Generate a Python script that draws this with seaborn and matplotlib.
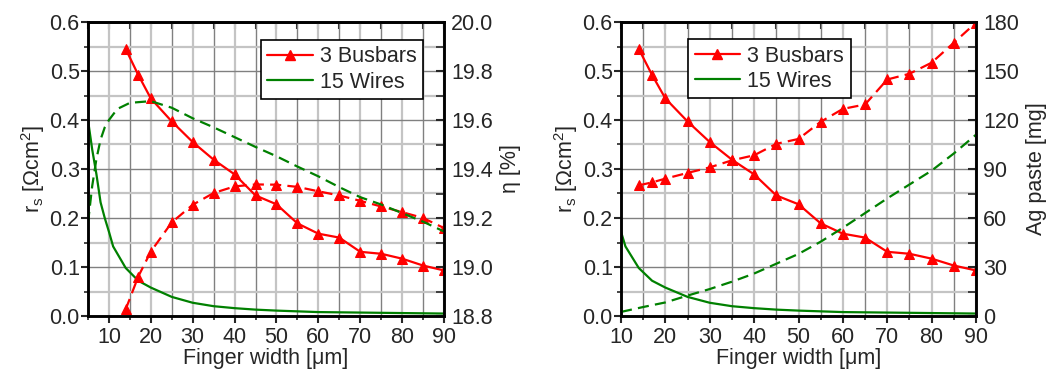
import matplotlib
matplotlib.use("Agg")
import matplotlib.pyplot as plt
import seaborn as sns
from matplotlib.lines import Line2D
from matplotlib.ticker import MultipleLocator, FormatStrFormatter

# ---------------- data ----------------
width_bb = [14, 17, 20, 25, 30, 35, 40, 45, 50, 55, 60, 65, 70, 75, 80, 85, 90]
rs_bb = [0.545, 0.492, 0.444, 0.397, 0.355, 0.319, 0.289, 0.246, 0.228, 0.189,
         0.168, 0.160, 0.131, 0.127, 0.117, 0.103, 0.093]
eta_bb = [18.827, 18.961, 19.063, 19.182, 19.254, 19.302, 19.329, 19.337, 19.336,
          19.327, 19.309, 19.292, 19.270, 19.247, 19.224, 19.200, 19.159]
ag_bb = [80.0, 81.8, 84.1, 87.6, 91.0, 95.3, 98.4, 105.4, 108.4, 118.9, 126.8,
         129.5, 144.8, 148.3, 155.1, 167.3, 179.6]

width_w_rs = [5, 6, 7, 8, 9, 10, 11, 14, 17, 20, 25, 30, 35, 40, 45, 50, 55, 60,
              65, 70, 75, 80, 85, 90]
rs_w = [0.400, 0.340, 0.290, 0.232, 0.200, 0.172, 0.142, 0.098, 0.072, 0.058,
        0.039, 0.027, 0.020, 0.016, 0.013, 0.011, 0.0095, 0.008, 0.0075, 0.007,
        0.0065, 0.006, 0.0055, 0.005]

width_w_eta = [5, 6, 7, 8, 9, 10, 12, 15, 20, 25, 30, 35, 40, 45, 50, 55, 60, 65,
               70, 75, 80, 85, 90]
eta_w = [19.18, 19.33, 19.44, 19.52, 19.57, 19.60, 19.645, 19.67, 19.677, 19.65,
         19.607, 19.57, 19.53, 19.49, 19.452, 19.41, 19.37, 19.326, 19.285,
         19.255, 19.22, 19.185, 19.145]

width_w_ag = [10, 15, 20, 25, 30, 35, 40, 45, 50, 55, 60, 65, 70, 75, 80, 85, 90]
ag_w = [2.5, 5.5, 8.3, 12.5, 16.5, 21.0, 26.0, 32.0, 38.0, 45.5, 54.0, 63.0,
        72.0, 80.5, 89.0, 99.5, 111.0]

legend_labels = ["3 Busbars", "15 Wires"]

# ---------------- style ----------------
sns.set_style("white")
plt.rcParams['font.family'] = ['Liberation Sans', 'DejaVu Sans']
plt.rcParams['mathtext.fontset'] = 'custom'
plt.rcParams['mathtext.rm'] = 'Liberation Sans'
plt.rcParams['mathtext.it'] = 'Liberation Sans'
FS = 15.5
RED = '#ff0000'
GREEN = '#008000'
DASH = (0, (5, 2.8))
MS = 7.5

W, H = 1052, 379
fig = plt.figure(figsize=(W / 100, H / 100), dpi=100)
axL = fig.add_axes([88 / W, 1 - 316 / H, 356 / W, 294 / H])
axR = fig.add_axes([621 / W, 1 - 316 / H, 355 / W, 294 / H])


def style_main(ax, xmin):
    ax.set_xlim(xmin, 90)
    ax.set_ylim(0, 0.6)
    ax.xaxis.set_major_locator(MultipleLocator(10))
    ax.xaxis.set_minor_locator(MultipleLocator(5))
    ax.yaxis.set_major_locator(MultipleLocator(0.1))
    ax.yaxis.set_minor_locator(MultipleLocator(0.05))
    ax.yaxis.set_major_formatter(FormatStrFormatter('%.1f'))
    ax.grid(True, axis='x', which='major', color='#c4c4c4', lw=1.6)
    ax.grid(True, axis='x', which='minor', color='#808080', lw=1.0)
    ax.grid(True, axis='y', which='major', color='#808080', lw=1.0)
    ax.grid(True, axis='y', which='minor', color='#c4c4c4', lw=1.6)
    ax.set_axisbelow(True)
    ax.tick_params(axis='y', which='major', direction='out', length=5,
                   width=1.5, labelsize=FS, pad=1, left=True)
    ax.tick_params(axis='x', which='major', direction='out', length=5,
                   width=1.5, labelsize=FS, pad=3, bottom=True)
    ax.tick_params(axis='both', which='minor', direction='out', length=3,
                   width=1.2, bottom=True, left=True)
    for s in ax.spines.values():
        s.set_linewidth(1.8)
        s.set_color('black')
    top = ax.secondary_xaxis('top')
    top.xaxis.set_major_locator(MultipleLocator(5))
    top.tick_params(direction='in', length=5, width=1.5, labeltop=False)
    top.spines['top'].set_linewidth(1.8)
    ax.set_xlabel('Finger width [μm]', fontsize=FS, labelpad=0)
    ax.set_ylabel(r'r$_\mathregular{s}$ [$\Omega$cm$^\mathregular{2}$]',
                  fontsize=FS, labelpad=2)


def style_twin(ax2):
    ax2.tick_params(axis='y', which='major', direction='in', length=6,
                    width=1.5, labelsize=FS, pad=5)
    ax2.tick_params(axis='y', which='minor', direction='in', length=6, width=1.2)
    ax2.grid(False)
    for s in ax2.spines.values():
        s.set_linewidth(1.8)
        s.set_color('black')


# ---------------- left panel ----------------
style_main(axL, 5)
sns.lineplot(x=width_bb, y=rs_bb, ax=axL, color=RED, marker='^', markersize=MS,
             markeredgecolor=RED, lw=1.6)
sns.lineplot(x=width_w_rs, y=rs_w, ax=axL, color=GREEN, lw=1.6)

axL2 = axL.twinx()
sns.lineplot(x=width_bb, y=eta_bb, ax=axL2, color=RED, marker='^', markersize=MS,
             markeredgecolor=RED, lw=1.6, linestyle=DASH)
sns.lineplot(x=width_w_eta, y=eta_w, ax=axL2, color=GREEN, lw=1.6, linestyle=DASH)
axL2.set_ylim(18.8, 20.0)
axL2.yaxis.set_major_locator(MultipleLocator(0.2))
axL2.yaxis.set_minor_locator(MultipleLocator(0.1))
axL2.yaxis.set_major_formatter(FormatStrFormatter('%.1f'))
axL2.set_ylabel('η [%]', fontsize=FS, labelpad=5)
style_twin(axL2)

# ---------------- right panel ----------------
style_main(axR, 10)
sns.lineplot(x=width_bb, y=rs_bb, ax=axR, color=RED, marker='^', markersize=MS,
             markeredgecolor=RED, lw=1.6)
sns.lineplot(x=width_w_rs, y=rs_w, ax=axR, color=GREEN, lw=1.6)

axR2 = axR.twinx()
sns.lineplot(x=width_bb, y=ag_bb, ax=axR2, color=RED, marker='^', markersize=MS,
             markeredgecolor=RED, lw=1.6, linestyle=DASH)
sns.lineplot(x=width_w_ag, y=ag_w, ax=axR2, color=GREEN, lw=1.6, linestyle=DASH)
axR2.set_ylim(0, 180)
axR2.yaxis.set_major_locator(MultipleLocator(30))
axR2.yaxis.set_minor_locator(MultipleLocator(15))
axR2.set_ylabel('Ag paste [mg]', fontsize=FS, labelpad=5)
style_twin(axR2)

axR.set_xlim(10, 90)
axL.set_xlim(5, 90)

# ---------------- legends ----------------
handles = [Line2D([], [], color=RED, lw=1.6, marker='^', markersize=MS),
           Line2D([], [], color=GREEN, lw=1.6)]
for ax2, x0, y0 in [(axL2, 0.486, 0.939), (axR2, 0.189, 0.942)]:
    leg = ax2.legend(handles, legend_labels, loc='upper left',
                     bbox_to_anchor=(x0, y0), borderaxespad=0, fontsize=FS,
                     frameon=True, fancybox=False, framealpha=1,
                     edgecolor='black', handlelength=2.1, handletextpad=0.35,
                     borderpad=0.3, labelspacing=0.2)
    leg.get_frame().set_linewidth(1.2)

fig.savefig('out.png', dpi=100)
